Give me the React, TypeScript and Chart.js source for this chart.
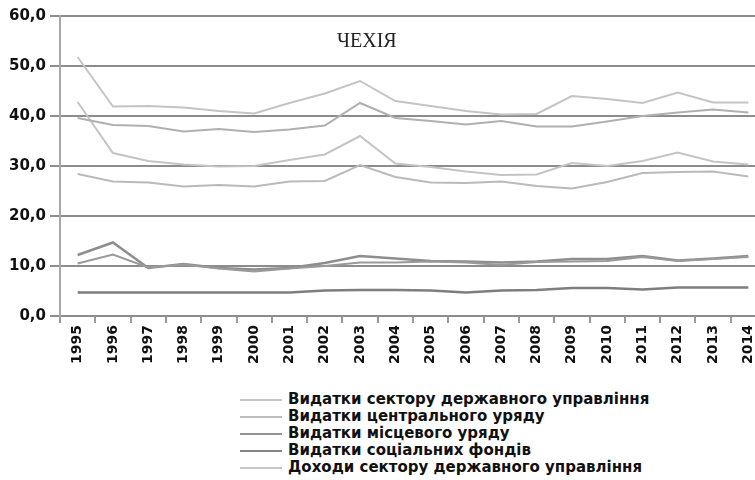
import React, { useEffect, useRef } from "react";
import { Chart, registerables } from "chart.js";

Chart.register(...registerables);

const years = ["1995","1996","1997","1998","1999","2000","2001","2002","2003","2004","2005","2006","2007","2008","2009","2010","2011","2012","2013","2014"];

const yTicks = [0, 10, 20, 30, 40, 50, 60];

const titleText = "ЧЕХІЯ";

// Видатки сектору державного управління
const ggExpenditure = [51.8, 41.9, 42.0, 41.7, 41.0, 40.5, 42.6, 44.5, 47.0, 43.0, 42.0, 41.0, 40.3, 40.4, 44.0, 43.4, 42.6, 44.7, 42.7, 42.7];
// Видатки центрального уряду
const centralExpenditure = [42.8, 32.6, 31.0, 30.3, 29.9, 30.0, 31.2, 32.3, 36.0, 30.5, 29.8, 28.9, 28.2, 28.3, 30.6, 30.0, 31.0, 32.7, 30.9, 30.3];
// Видатки місцевого уряду
const localExpenditure = [12.2, 14.7, 9.6, 10.4, 9.6, 9.3, 9.6, 10.6, 12.0, 11.5, 11.0, 10.9, 10.7, 10.9, 11.4, 11.4, 12.0, 11.1, 11.5, 12.0];
// Видатки соціальних фондів
const socialFunds = [4.7, 4.7, 4.7, 4.7, 4.7, 4.7, 4.7, 5.1, 5.2, 5.2, 5.1, 4.7, 5.1, 5.2, 5.6, 5.6, 5.3, 5.7, 5.7, 5.7];
// Доходи сектору державного управління
const ggRevenue = [39.6, 38.2, 38.0, 36.9, 37.4, 36.8, 37.3, 38.1, 42.6, 39.6, 39.0, 38.3, 39.0, 37.9, 37.9, 38.9, 40.0, 40.7, 41.3, 40.7];
// unlabeled lines visible in the plot
const extraUpper = [28.4, 26.9, 26.7, 25.9, 26.2, 25.9, 26.9, 27.0, 30.2, 27.8, 26.7, 26.6, 26.9, 26.0, 25.5, 26.8, 28.6, 28.8, 28.9, 27.9];
const extraLower = [10.5, 12.3, 9.7, 10.3, 9.5, 8.9, 9.5, 10.0, 10.7, 10.7, 10.9, 10.7, 10.2, 10.8, 10.9, 11.0, 11.8, 11.0, 11.4, 11.8];

const legendItems = [
  { label: "Видатки сектору державного управління", color: "#c6c6c6" },
  { label: "Видатки центрального уряду", color: "#bdbdbd" },
  { label: "Видатки місцевого уряду", color: "#949494" },
  { label: "Видатки соціальних фондів", color: "#858585" },
  { label: "Доходи сектору державного управління", color: "#c6c6c6" },
];

export default function App() {
  const canvasRef = useRef<HTMLCanvasElement | null>(null);

  useEffect(() => {
    if (!canvasRef.current) return;
    const mk = (label: string, data: number[], color: string, w: number) => ({
      label,
      data,
      borderColor: color,
      backgroundColor: color,
      borderWidth: w,
      pointRadius: 0,
      tension: 0,
      fill: false,
    });
    const chart = new Chart(canvasRef.current, {
      type: "line",
      data: {
        labels: years,
        datasets: [
          mk("", extraUpper, "#bababa", 2),
          mk(legendItems[4].label, ggRevenue, "#b0b0b0", 2),
          mk(legendItems[1].label, centralExpenditure, "#c4c4c4", 2),
          mk(legendItems[0].label, ggExpenditure, "#c4c4c4", 2),
          mk("", extraLower, "#9a9a9a", 2),
          mk(legendItems[2].label, localExpenditure, "#8e8e8e", 2.5),
          mk(legendItems[3].label, socialFunds, "#7e7e7e", 2.5),
        ],
      },
      options: {
        animation: false,
        responsive: false,
        layout: { padding: { top: 16, right: 4, bottom: 0, left: 0 } },
        plugins: { legend: { display: false }, title: { display: false }, tooltip: { enabled: false } },
        scales: {
          x: {
            offset: true,
            afterFit: (s: any) => { s.height = 70; },
            grid: { drawOnChartArea: false, drawTicks: true, tickLength: 7, offset: true, color: "#9a9a9a", lineWidth: 2 },
            border: { color: "#8c8c8c", width: 2 },
            ticks: {
              autoSkip: false,
              maxRotation: 90,
              minRotation: 90,
              padding: 2,
              color: "#111",
              font: { family: "'DejaVu Sans'", weight: "bold", size: 14 },
            },
          },
          y: {
            min: 0,
            max: 60,
            afterFit: (s: any) => { s.width = 60; },
            afterBuildTicks: (s: any) => { s.ticks = yTicks.map((v) => ({ value: v })); },
            grid: { color: "#8c8c8c", lineWidth: 2, tickLength: 10 },
            border: { color: "#a8a8a8", width: 2 },
            ticks: {
              padding: 4,
              color: "#111",
              font: { family: "'DejaVu Sans'", weight: "bold", size: 15 },
              callback: (v: any) => Number(v).toFixed(1).replace(".", ","),
            },
          },
        },
      },
    });
    return () => chart.destroy();
  }, []);

  return (
    <div style={{ position: "absolute", left: 0, top: 0, width: 755, height: 480, overflow: "hidden", background: "#fff" }}>
      <canvas ref={canvasRef} width={770} height={386} style={{ position: "absolute", left: 0, top: 0 }} />
      <div style={{ position: "absolute", left: 337, top: 30, fontFamily: "'Liberation Serif', serif", fontSize: 20, lineHeight: "20px", color: "#222" }}>
        {titleText}
      </div>
      <div style={{ position: "absolute", left: 240, top: 391 }}>
        {legendItems.map((it) => (
          <div key={it.label} style={{ display: "flex", alignItems: "center", height: 17 }}>
            <div style={{ width: 42, height: 2, background: it.color, marginRight: 6 }} />
            <span style={{ fontFamily: "'DejaVu Sans', sans-serif", fontWeight: "bold", fontSize: 15, lineHeight: "17px", color: "#111", whiteSpace: "nowrap" }}>
              {it.label}
            </span>
          </div>
        ))}
      </div>
    </div>
  );
}
